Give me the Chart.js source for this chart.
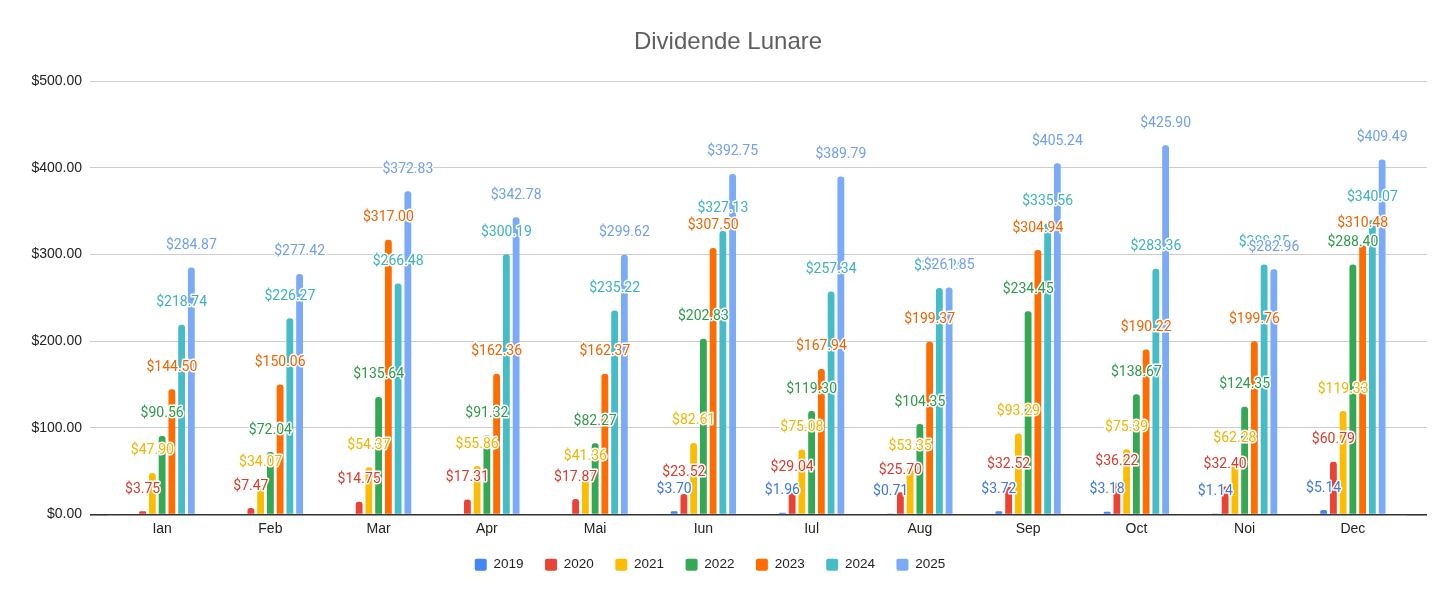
<!DOCTYPE html>
<html>
<head>
<meta charset="utf-8">
<script src="https://cdn.jsdelivr.net/npm/chart.js@4.4.1/dist/chart.umd.min.js"></script>
<style>
html,body{margin:0;padding:0;background:#ffffff;}
#wrap{width:1456px;height:601px;}
</style>
</head>
<body>
<div id="wrap"><canvas id="c" width="1456" height="601"></canvas></div>
<script>
const chartTitle = 'Dividende Lunare';
const categories = ['Ian','Feb','Mar','Apr','Mai','Iun','Iul','Aug','Sep','Oct','Noi','Dec'];
const seriesNames = ['2019','2020','2021','2022','2023','2024','2025'];
const s2019 = [0, 0, 0, 0, 0, 3.70, 1.96, 0.71, 3.72, 3.18, 1.14, 5.14];
const s2020 = [3.75, 7.47, 14.75, 17.31, 17.87, 23.52, 29.04, 25.70, 32.52, 36.22, 32.40, 60.79];
const s2021 = [47.90, 34.07, 54.37, 55.86, 41.36, 82.61, 75.08, 53.35, 93.29, 75.39, 62.28, 119.33];
const s2022 = [90.56, 72.04, 135.64, 91.32, 82.27, 202.83, 119.30, 104.35, 234.45, 138.67, 124.35, 288.40];
const s2023 = [144.50, 150.06, 317.00, 162.36, 162.37, 307.50, 167.94, 199.37, 304.94, 190.22, 199.76, 310.48];
const s2024 = [218.74, 226.27, 266.48, 300.19, 235.22, 327.13, 257.34, 261.20, 335.56, 283.36, 288.25, 340.07];
const s2025 = [284.87, 277.42, 372.83, 342.78, 299.62, 392.75, 389.79, 261.85, 405.24, 425.90, 282.96, 409.49];
const seriesValues = [s2019, s2020, s2021, s2022, s2023, s2024, s2025];
const seriesColors = ['#4285F4', '#EA4335', '#FBBC04', '#34A853', '#FF6D01', '#46BDC6', '#7BAAF7'];
const labelColors = ['#3B78E7', '#DB3A2C', '#F2B400', '#2E9A4B', '#F06400', '#3CB3BC', '#6F9FF0'];
const yMin = 0, yMax = 500, yStep = 100;

const fmt = v => '$' + v.toFixed(2);
const AX_FONT = '"Liberation Sans", Arial, sans-serif';

const titlePlugin = {
  id: 'ownTitle',
  afterDraw(chart) {
    const ctx = chart.ctx;
    ctx.save();
    ctx.font = '24px ' + AX_FONT;
    ctx.fillStyle = '#5f5f5f';
    ctx.textAlign = 'center';
    ctx.textBaseline = 'middle';
    ctx.fillText(chartTitle, chart.width / 2, 42);
    ctx.restore();
  }
};

const valueLabels = {
  id: 'valueLabels',
  afterDatasetsDraw(chart) {
    const ctx = chart.ctx;
    ctx.save();
    ctx.font = '14px Roboto, "Liberation Sans", sans-serif';
    ctx.textAlign = 'center';
    ctx.textBaseline = 'middle';
    ctx.lineJoin = 'round';
    ctx.lineWidth = 3;
    ctx.strokeStyle = '#ffffff';
    chart.data.datasets.forEach((ds, i) => {
      const meta = chart.getDatasetMeta(i);
      meta.data.forEach((bar, j) => {
        const v = ds.data[j];
        if (!v) return;
        const t = fmt(v);
        const y = bar.y - 22;
        ctx.strokeText(t, bar.x, y);
        ctx.fillStyle = labelColors[i];
        ctx.fillText(t, bar.x, y);
      });
    });
    ctx.restore();
  }
};

const gridColor = c => (c.tick && c.tick.value === 0) ? '#333333' : '#cccccc';
const gridWidth = c => (c.tick && c.tick.value === 0) ? 1.6 : 1;

new Chart(document.getElementById('c'), {
  type: 'bar',
  data: {
    labels: categories,
    datasets: seriesNames.map((n, i) => ({
      label: n,
      data: seriesValues[i],
      backgroundColor: seriesColors[i],
      borderWidth: 0,
      borderRadius: 3,
      borderSkipped: 'start',
      categoryPercentage: 0.63,
      barPercentage: 0.7
    }))
  },
  options: {
    responsive: false,
    animation: false,
    devicePixelRatio: 1,
    layout: { padding: { left: 0, right: 36, top: 81, bottom: 19.5 } },
    scales: {
      x: {
        grid: { display: false, drawTicks: false, tickLength: 0 },
        border: { display: false },
        ticks: { color: '#222222', font: { family: AX_FONT, size: 14 }, padding: 6, maxRotation: 0 },
        afterFit(s) { s.height = 22; }
      },
      y: {
        min: yMin, max: yMax,
        border: { display: false },
        grid: { color: gridColor, lineWidth: gridWidth, tickLength: 18, drawTicks: true },
        ticks: { stepSize: yStep, color: '#222222', font: { family: AX_FONT, size: 14 }, padding: 8, callback: v => fmt(v) },
        afterFit(s) { s.width = 108; }
      },
      y2: {
        position: 'right',
        axis: 'y',
        min: yMin, max: yMax,
        border: { display: false },
        grid: { color: gridColor, lineWidth: gridWidth, tickLength: 20, drawTicks: true, drawOnChartArea: false },
        ticks: { stepSize: yStep, display: false },
        afterFit(s) { s.width = 13; }
      }
    },
    plugins: {
      title: { display: false },
      tooltip: { enabled: false },
      legend: {
        position: 'bottom',
        labels: {
          color: '#222222',
          font: { family: AX_FONT, size: 13.5 },
          boxWidth: 12,
          boxHeight: 12,
          padding: 21.5,
          useBorderRadius: true,
          borderRadius: 2
        }
      }
    }
  },
  plugins: [titlePlugin, valueLabels]
});
</script>
</body>
</html>
